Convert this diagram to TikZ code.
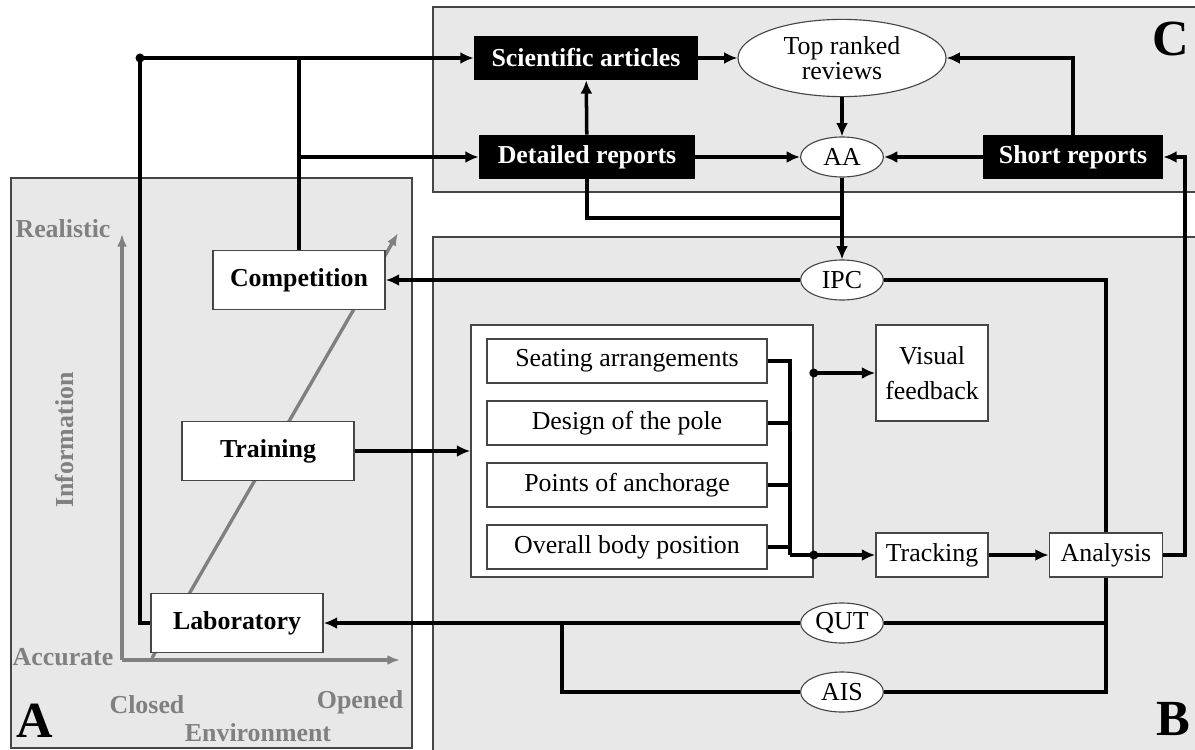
\documentclass[tikz,border=0pt]{standalone}
\usepackage{fontspec}
\setmainfont{Liberation Serif}
\usepackage{tikz}
\usetikzlibrary{shapes.geometric,arrows.meta}
\definecolor{panelgray}{RGB}{232,232,232}
\definecolor{axisgray}{RGB}{128,128,128}
\definecolor{edgegray}{RGB}{70,70,70}

\begin{document}
\begin{tikzpicture}[x=0.025cm, y=-0.025cm,
	font=\fontsize{18.4}{21}\selectfont,
	panel/.style={draw=edgegray, line width=0.9pt, fill=panelgray},
	wbox/.style={draw=edgegray, line width=1.1pt, fill=white, rectangle, minimum width=4.3cm, minimum height=1.47cm, font=\fontsize{18.4}{21}\selectfont\bfseries},
	blackbox/.style={fill=black, text=white, rectangle, minimum height=1.1cm, font=\fontsize{18.4}{21}\selectfont\bfseries},
	sbox/.style={draw=edgegray, line width=1.1pt, fill=white, rectangle, minimum width=7cm, minimum height=1.1cm},
	tbox/.style={draw=edgegray, line width=1.1pt, fill=white, rectangle, minimum width=2.8cm, minimum height=1.1cm},
	oval/.style={draw=edgegray, line width=0.8pt, fill=white, ellipse, minimum width=2.07cm, minimum height=1cm, inner sep=0pt},
	grayaxis/.style={->, >={Latex[length=9pt,width=7pt]}, line width=2.4pt, axisgray},
	glabel/.style={text=axisgray, font=\fontsize{18.4}{21}\selectfont\bfseries},
	panelletter/.style={font=\fontsize{36}{36}\selectfont\bfseries},
	link/.style={line width=2.5pt, >={Latex[length=9.5pt,width=8.5pt]}}]
	\useasboundingbox (0,0) rectangle (1195,749);
	
	\draw[panel] (11,178) rectangle (412,748);
	\draw[panel] (433,7) rectangle (1210,192);
	\draw[panel] (433,237) rectangle (1210,760);
	
	\draw[grayaxis] (122,660) -- (122,234);
	\draw[grayaxis] (122,660) -- (400,660);
	\draw[grayaxis] (152,658) -- (398,233);
	\node[glabel] (real) at (63,229) {Realistic};
	\node[glabel] (accu) at (63,657) {Accurate};
	\node[glabel, rotate=90] (info) at (65,440) {Information};
	\node[glabel] (clos) at (147,705) {Closed};
	\node[glabel] (open) at (360,702) {Opened};
	\node[glabel] (envi) at (258,733) {Environment};
	
	\node[wbox] (comp) at (299,280) {Competition};
	\node[wbox] (train) at (268,451) {Training};
	\node[wbox] (lab) at (237,623) {Laboratory};
	
	\node[blackbox, minimum width=5.6cm] (sci) at (586,58) {Scientific articles};
	\node[blackbox, minimum width=5.4cm] (det) at (587,157) {Detailed reports};
	\node[blackbox, minimum width=4.5cm] (short) at (1073,157) {Short reports};
	\node[oval, minimum width=5.2cm, minimum height=1.93cm, align=center] (top) at (842,58) {Top ranked\\[-3pt]reviews};
	\node[oval] (aa) at (842,157) {AA};
	\node[oval] (ipc) at (842,280) {IPC};
	\node[oval] (qut) at (842,623) {QUT};
	\node[oval] (ais) at (842,692) {AIS};
	
	\node[draw=edgegray, line width=1.1pt, fill=white, minimum width=8.55cm, minimum height=6.3cm] (cont) at (642,451) {};
	\node[sbox] (seat) at (627,361) {Seating arrangements};
	\node[sbox, below of=seat, node distance=1.55cm] (pole) {Design of the pole};
	\node[sbox, below of=pole, node distance=1.55cm] (anch) {Points of anchorage};
	\node[sbox, below of=anch, node distance=1.55cm] (body) {Overall body position};
	
	\node[tbox, minimum height=2.4cm, align=center] (vis) at (932,373) {Visual\\[4pt]feedback};
	\node[tbox] (track) at (932,555) {Tracking};
	\node[tbox, minimum width=2.83cm] (anal) at (1106,555) {Analysis};
	
	\node[panelletter] (la) at (35,721) {A};
	\node[panelletter] (lb) at (1173,719) {B};
	\node[panelletter] (lc) at (1171,39) {C};
	
	\coordinate (split) at (140,58);
	\draw[link,->] (lab.west) -| (split) -- (sci.west);
	\fill (split) circle (3.2pt);
	\draw[link] (comp.north) -- (comp.north |- sci.west);
	\draw[link,->] (comp.north |- det.west) -- (det.west);
	\draw[link,->] (det) -- (sci);
	\draw[link,->] (sci) -- (top);
	\draw[link,->] (top) -- (aa);
	\draw[link,->] (det) -- (aa);
	\draw[link,->] (short) -- (aa);
	\draw[link,->] (short.north) |- (top.east);
	\coordinate (dj) at (842,218);
	\draw[link] (det.south) |- (dj);
	\draw[link,->] (aa) -- (ipc);
	\draw[link,->] (ipc) -- (comp);
	\draw[link] (ipc) -| (anal);
	
	\draw[link,->] (train) -- (cont);
	\coordinate (bt) at (790,361);
	\coordinate (bb) at (790,555);
	\draw[link] (seat.east) -- (bt) -- (bb);
	\draw[link] (pole.east) -- (pole.east -| bt);
	\draw[link] (anch.east) -- (anch.east -| bt);
	\draw[link] (body.east) -- (body.east -| bt);
	\draw[link,->] (bb) -- (track);
	\fill (cont.east |- track.west) circle (3.2pt);
	\draw[link,->] (cont.east |- vis.west) -- (vis);
	\fill (cont.east |- vis.west) circle (3.2pt);
	\draw[link,->] (track) -- (anal);
	
	\coordinate (rr) at (1185,157);
	\draw[link,->] (anal.east) -| (rr) -- (short.east);
	\draw[link] (anal.south) |- (ais.east);
	\draw[link] (anal.south |- qut.east) -- (qut.east);
	\draw[link,->] (qut) -- (lab);
	\coordinate (aj) at (562,623);
	\draw[link] (ais.west) -| (aj);
\end{tikzpicture}
\end{document}
